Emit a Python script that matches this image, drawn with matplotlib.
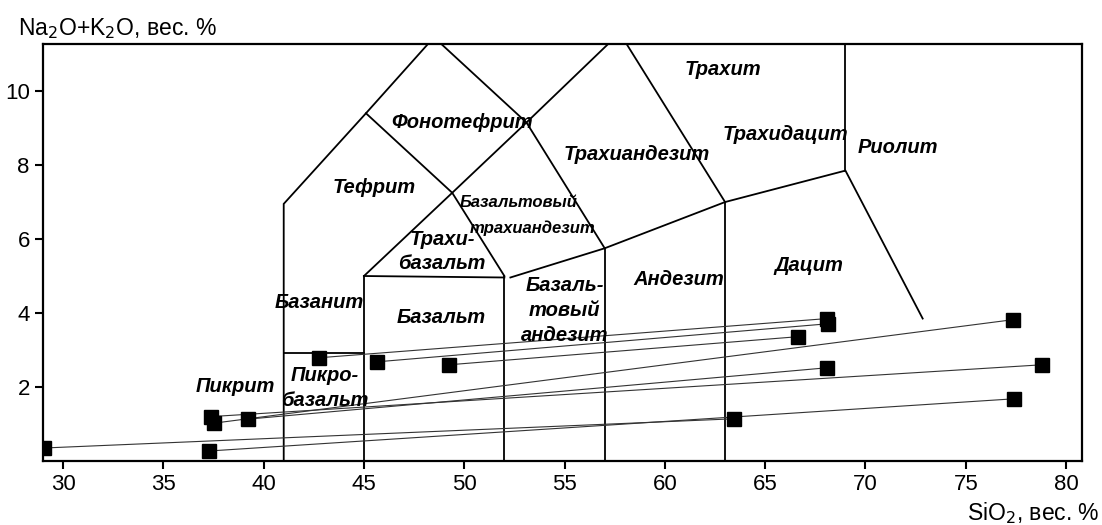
import matplotlib.pyplot as plt

plt.rcParams['font.family'] = ['Liberation Sans', 'DejaVu Sans']

# sample compositions: SiO2 and Na2O+K2O, wt %
sio2 = [29.05, 37.3, 37.4, 37.5, 39.2, 42.76, 45.65, 49.24, 63.45,
        66.64, 68.1, 68.15, 68.1, 77.36, 78.8, 77.4]
alk = [0.35, 0.27, 1.2, 1.02, 1.13, 2.79, 2.68, 2.6, 1.14,
       3.36, 3.85, 3.71, 2.52, 3.82, 2.6, 1.68]

# tie lines between sample pairs (indices into the arrays above)
ties = [(0, 8), (1, 15), (2, 14), (3, 13), (4, 12), (5, 10), (6, 11), (7, 9)]

# TAS field boundaries
fields = [
    ([41, 41, 45.1, 48.4], [0, 6.95, 9.4, 11.4]),
    ([45, 45], [0, 5]),
    ([52, 52], [0, 5]),
    ([57, 57], [0, 5.75]),
    ([63, 63], [0, 7]),
    ([69, 69], [7.85, 11.5]),
    ([41, 45], [2.93, 2.93]),
    ([45, 52], [5, 4.96]),
    ([45.1, 49.4, 52], [9.4, 7.25, 5]),
    ([45, 49.4, 53.1, 57.8], [5, 7.25, 9.15, 11.6]),
    ([52.3, 57, 63, 69, 72.85], [4.96, 5.75, 7, 7.85, 3.85]),
    ([48.4, 53.1, 57], [11.5, 9.15, 5.75]),
    ([57.6, 63], [11.7, 7]),
]

labels = [
    ('Тефрит', 45.5, 7.4, 14.5), ('Фонотефрит', 49.9, 9.16, 14.5),
    ('Трахиандезит', 58.6, 8.29, 14.5), ('Базальтовый', 52.7, 7.0, 12),
    ('трахиандезит', 53.4, 6.29, 12), ('Трахи-', 48.9, 5.99, 14.5),
    ('базальт', 48.9, 5.34, 14.5), ('Базаль-', 55.0, 4.74, 14.5),
    ('товый', 55.0, 4.07, 14.5), ('андезит', 55.0, 3.39, 14.5),
    ('Андезит', 60.7, 4.9, 14.5), ('Дацит', 67.2, 5.28, 14.5),
    ('Трахит', 62.9, 10.57, 14.5), ('Трахидацит', 66.0, 8.83, 14.5),
    ('Риолит', 71.6, 8.48, 14.5), ('Базанит', 42.76, 4.28, 14.5),
    ('Базальт', 48.84, 3.88, 14.5), ('Пикрит', 38.6, 2.0, 14.5),
    ('Пикро-', 43.06, 2.3, 14.5), ('базальт', 43.06, 1.63, 14.5),
]

fig = plt.figure(figsize=(11.02, 5.25), dpi=100)
ax = fig.add_axes([0.039, 0.122, 0.943, 0.794])

for xs, ys in fields:
    ax.plot(xs, ys, color='black', lw=1.3, solid_joinstyle='miter')

for i, j in ties:
    ax.plot([sio2[i], sio2[j]], [alk[i], alk[j]], color='#333333', lw=0.8)

ax.plot(sio2, alk, 's', color='black', markersize=9.5, linestyle='none')

for txt, x, y, fs in labels:
    ax.text(x, y, txt, fontsize=fs, fontweight='bold', fontstyle='italic',
            ha='center', va='center')

ax.set_xlim(29.0, 80.8)
ax.set_ylim(0, 11.27)
ax.set_xticks(range(30, 81, 5))
ax.set_yticks(range(2, 11, 2))
ax.tick_params(direction='out', length=6, width=1.5, labelsize=16)
for s in ax.spines.values():
    s.set_linewidth(1.6)

fig.text(0.016, 0.945, 'Na$_2$O+K$_2$O, вес. %', fontsize=16.5, ha='left', va='center')
fig.text(0.998, 0.022, 'SiO$_2$, вес. %', fontsize=16.5, ha='right', va='center')

fig.savefig('out.png', dpi=100)
